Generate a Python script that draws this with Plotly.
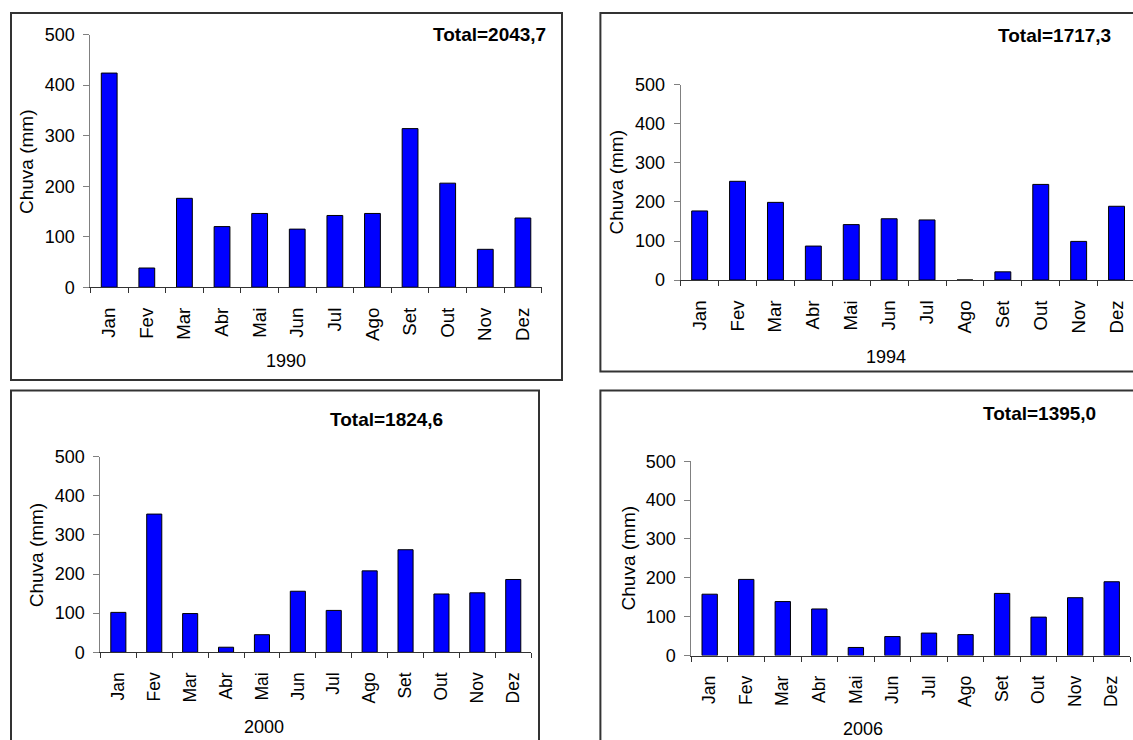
import plotly.graph_objects as go

# ---------------- data ----------------
months = ["Jan", "Fev", "Mar", "Abr", "Mai", "Jun", "Jul", "Ago", "Set", "Out", "Nov", "Dez"]
chuva_1990 = [424, 38, 176, 120, 146, 115, 142, 146, 314, 206, 75, 137]
chuva_1994 = [177, 253, 199, 87, 142, 157, 154, 0, 21, 245, 99, 189]
chuva_2000 = [102, 353, 99, 13, 45, 156, 107, 208, 262, 149, 152, 186]
chuva_2006 = [158, 196, 139, 120, 21, 49, 58, 54, 160, 99, 149, 190]
years = ["1990", "1994", "2000", "2006"]
totals = ["Total=2043,7", "Total=1717,3", "Total=1824,6", "Total=1395,0"]
y_ticks = [0, 100, 200, 300, 400, 500]
y_title = "Chuva (mm)"

W, H = 1133, 740
FONT = "Liberation Sans, Arial, sans-serif"

# vertical calibration between the photographed picture and figure pixels
V_SCALE, V_OFF = 0.974, 9.0


def px(x):
    return x / W


def py(y):
    # y given in picture pixels (top = 0)
    return 1 - ((y - V_OFF) / V_SCALE) / H


# panel geometry in picture pixels
panels = [
    dict(data=chuva_1990, ax=(90.4, 541.7), ay=(33.7, 286.5), box=(11, 12, 562, 379.3),
         total=(548, 33.3), year=(286, 360), ytitle=(26.7, 160.5), xfs=18.7),
    dict(data=chuva_1994, ax=(680.7, 1135.5), ay=(84, 279.3), box=(600.4, 12, 1145, 371),
         total=(1112.5, 35), year=(885.8, 356.7), ytitle=(617, 181.7), xfs=18.6),
    dict(data=chuva_2000, ax=(100.4, 531.2), ay=(456, 652), box=(11, 390, 539, 780),
         total=(444.6, 419.3), year=(263.8, 726.7), ytitle=(36.9, 554), xfs=17.5),
    dict(data=chuva_2006, ax=(691.4, 1130), ay=(460.7, 655.3), box=(600.4, 390, 1145, 780),
         total=(1098, 413.3), year=(863.4, 729), ytitle=(628, 558), xfs=17.6),
]

fig = go.Figure()
layout = dict(
    width=W, height=H,
    margin=dict(l=0, r=0, t=0, b=0),
    paper_bgcolor="white", plot_bgcolor="white",
    showlegend=False,
    font=dict(family=FONT, color="black"),
    shapes=[], annotations=[],
)

boundaries = [k - 0.5 for k in range(13)]

for i, p in enumerate(panels):
    n = "" if i == 0 else str(i + 1)
    fig.add_trace(go.Bar(
        x=months, y=p["data"], xaxis="x" + n, yaxis="y" + n,
        marker=dict(color="#0000FF", line=dict(color="black", width=1)),
        width=0.42,
    ))
    x0, x1 = p["ax"]
    cat_w = (x1 - x0) / 12.0
    if x1 > W:
        # axis runs past the right edge of the picture (chart is cut off)
        dom_x = [px(x0), 1.0]
        xr = [-0.5, -0.5 + (W - x0) / cat_w]
    else:
        dom_x = [px(x0), px(x1)]
        xr = [-0.5, 11.5]
    ytop, ybot = p["ay"]
    layout["xaxis" + n] = dict(
        domain=dom_x, anchor="y" + n, type="category", range=xr,
        tickson="boundaries", ticks="outside", ticklen=5, tickwidth=1, tickcolor="#333333",
        tickangle=-90, tickfont=dict(family=FONT, size=p["xfs"], color="black"),
        showline=True, linecolor="#333333", linewidth=1, showgrid=False,
        ticklabelstandoff=12,
    )
    # overlay axis giving the upper half of the crossing category ticks
    m = str(i + 5)
    layout["xaxis" + m] = dict(
        overlaying="x" + n, anchor="y" + n, type="linear", range=xr,
        tickvals=boundaries, ticks="inside", ticklen=4, tickwidth=1, tickcolor="#333333",
        showticklabels=False, showline=False, showgrid=False, zeroline=False,
    )
    layout["yaxis" + n] = dict(
        domain=[py(ybot), py(ytop)], anchor="x" + n, range=[0, 500],
        tickvals=y_ticks, ticks="outside", ticklen=6, tickwidth=1, tickcolor="#808080",
        tickfont=dict(family=FONT, size=18, color="black"),
        showline=True, linecolor="#808080", linewidth=1, showgrid=False, zeroline=False,
        ticklabelstandoff=5,
    )
    bx0, by0, bx1, by1 = p["box"]
    layout["shapes"].append(dict(
        type="rect", xref="paper", yref="paper",
        x0=px(bx0), x1=px(bx1), y0=py(by1), y1=py(by0),
        line=dict(color="#333333", width=2), fillcolor="rgba(0,0,0,0)", layer="below",
    ))
    tx, ty = p["total"]
    layout["annotations"].append(dict(
        text="<b>" + totals[i] + "</b>", xref="paper", yref="paper",
        x=px(tx), y=py(ty), xanchor="right", yanchor="middle", showarrow=False,
        font=dict(family=FONT, size=19, color="black"),
    ))
    yx, yy = p["year"]
    layout["annotations"].append(dict(
        text=years[i], xref="paper", yref="paper",
        x=px(yx), y=py(yy), xanchor="center", yanchor="middle", showarrow=False,
        font=dict(family=FONT, size=18, color="black"),
    ))
    cx, cy = p["ytitle"]
    layout["annotations"].append(dict(
        text=y_title, xref="paper", yref="paper", textangle=-90,
        x=px(cx), y=py(cy), xanchor="center", yanchor="middle", showarrow=False,
        font=dict(family=FONT, size=19, color="black"),
    ))

fig.update_layout(**layout)
fig.write_html(
    "out.html",
    config={"displayModeBar": False},
    post_script="document.body.style.margin='0';document.body.style.overflow='hidden';",
)
